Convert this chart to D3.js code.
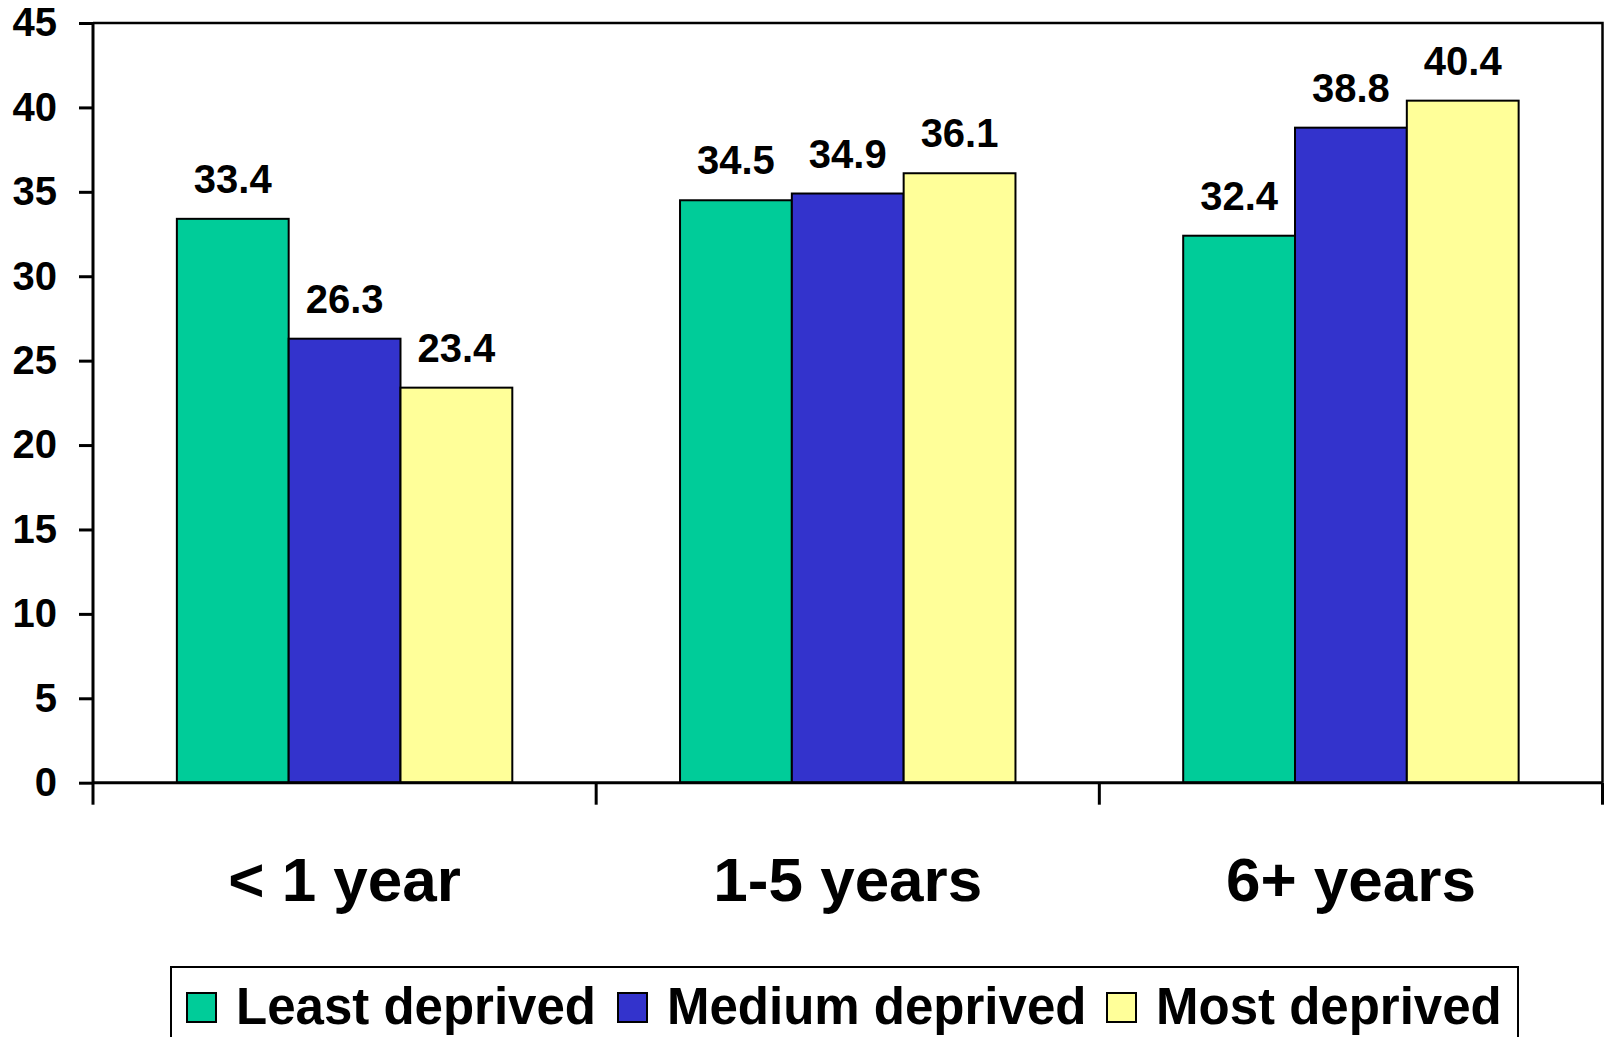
<!DOCTYPE html>
<html>
<head>
<meta charset="utf-8">
<script src="https://cdn.jsdelivr.net/npm/d3@7"></script>
<style>
  html, body { margin: 0; padding: 0; background: #fff; }
  svg { display: block; }
  text { font-family: "Liberation Sans", Arial, sans-serif; font-weight: bold; fill: #000; }
</style>
</head>
<body>
<svg id="chart" width="1604" height="1037"></svg>
<script>
// Share by length of residence and deprivation level
const categories = ["< 1 year", "1-5 years", "6+ years"];
const seriesNames = ["Least deprived", "Medium deprived", "Most deprived"];
const leastDeprived = [33.4, 34.5, 32.4];
const mediumDeprived = [26.3, 34.9, 38.8];
const mostDeprived = [23.4, 36.1, 40.4];
const yTicks = [0, 5, 10, 15, 20, 25, 30, 35, 40, 45];
const seriesColors = ["#00CC99", "#3333CC", "#FFFF99"];

const seriesValues = [leastDeprived, mediumDeprived, mostDeprived];

const svg = d3.select("#chart");
const plot = { left: 93, right: 1602.5, top: 23, bottom: 782.7 };

const x = d3.scaleBand()
  .domain(categories)
  .range([plot.left, plot.right])
  .paddingInner(0)
  .paddingOuter(0);

const xInner = d3.scaleBand()
  .domain(seriesNames)
  .range([0, x.bandwidth()])
  .paddingInner(0)
  .paddingOuter(0.75);

const y = d3.scaleLinear().domain([0, 45]).range([plot.bottom, plot.top]);

const color = d3.scaleOrdinal().domain(seriesNames).range(seriesColors);

// Plot area frame (top and right)
svg.append("path")
  .attr("d", `M${plot.left},${plot.top}H${plot.right}V${plot.bottom}`)
  .attr("fill", "none")
  .attr("stroke", "#000")
  .attr("stroke-width", 2.5);

// Bars
const rows = [];
categories.forEach((c, ci) => {
  seriesNames.forEach((s, si) => {
    rows.push({ category: c, series: s, value: seriesValues[si][ci] });
  });
});

svg.append("g").selectAll("rect")
  .data(rows)
  .join("rect")
  .attr("x", d => x(d.category) + xInner(d.series))
  .attr("y", d => y(d.value))
  .attr("width", xInner.bandwidth())
  .attr("height", d => y(0) - y(d.value))
  .attr("fill", d => color(d.series))
  .attr("stroke", "#000")
  .attr("stroke-width", 2);

// Value labels
svg.append("g").selectAll("text")
  .data(rows)
  .join("text")
  .attr("x", d => x(d.category) + xInner(d.series) + xInner.bandwidth() / 2)
  .attr("y", d => y(d.value) - 26)
  .attr("text-anchor", "middle")
  .attr("font-size", 40)
  .text(d => d.value.toFixed(1));

// Y axis
const yAxis = svg.append("g")
  .attr("transform", `translate(${plot.left},0)`)
  .call(d3.axisLeft(y).tickValues(yTicks).tickSize(14).tickPadding(22));
yAxis.select(".domain").attr("stroke", "#000").attr("stroke-width", 3)
  .attr("d", `M0,${plot.top}V${plot.bottom}`);
yAxis.selectAll(".tick line").attr("stroke", "#000").attr("stroke-width", 3);
yAxis.selectAll(".tick text")
  .attr("font-size", 40)
  .attr("font-family", "'Liberation Sans', Arial, sans-serif")
  .attr("font-weight", "bold")
  .attr("fill", "#000");

// X axis line with ticks at category boundaries
const xAxis = svg.append("g")
  .attr("transform", `translate(0,${plot.bottom})`)
  .call(d3.axisBottom(x).tickSize(0).tickPadding(118));
xAxis.select(".domain").attr("stroke", "#000").attr("stroke-width", 3)
  .attr("d", `M${plot.left},0H${plot.right}`);
xAxis.selectAll(".tick text")
  .attr("font-size", 62)
  .attr("font-family", "'Liberation Sans', Arial, sans-serif")
  .attr("font-weight", "bold")
  .attr("fill", "#000")
  .attr("dy", 0);

const boundaries = categories.map(c => x(c)).concat([x(categories[categories.length - 1]) + x.bandwidth()]);
xAxis.selectAll("line.boundary")
  .data(boundaries)
  .join("line")
  .attr("class", "boundary")
  .attr("x1", d => d).attr("x2", d => d)
  .attr("y1", 0).attr("y2", 22)
  .attr("stroke", "#000")
  .attr("stroke-width", 3);

// Legend
const legend = svg.append("g");
legend.append("rect")
  .attr("x", 171).attr("y", 967)
  .attr("width", 1347).attr("height", 120)
  .attr("fill", "#fff")
  .attr("stroke", "#000")
  .attr("stroke-width", 2);

const legendX = [187, 618, 1107];
const items = legend.selectAll("g.item")
  .data(seriesNames)
  .join("g")
  .attr("class", "item")
  .attr("transform", (d, i) => `translate(${legendX[i]},993)`);
items.append("rect")
  .attr("width", 29).attr("height", 29)
  .attr("fill", d => color(d))
  .attr("stroke", "#000")
  .attr("stroke-width", 2);
items.append("text")
  .attr("x", 49)
  .attr("y", 31)
  .attr("font-size", 51)
  .text(d => d);
</script>
</body>
</html>
